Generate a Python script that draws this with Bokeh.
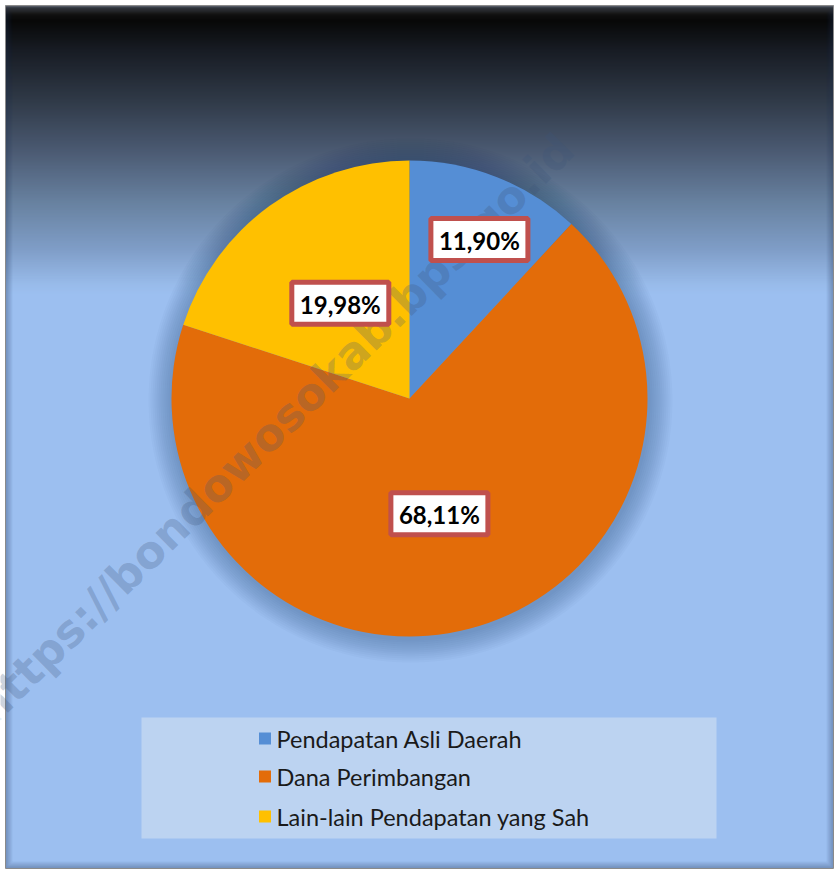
import numpy as np
from bokeh.plotting import figure
from bokeh.models import Range1d
from bokeh.core.properties import value
from bokeh.embed import file_html
from bokeh.resources import INLINE

# ---------------- data ----------------
categories = ["Pendapatan Asli Daerah", "Dana Perimbangan", "Lain-lain Pendapatan yang Sah"]
shares = [11.90, 68.11, 19.98]
share_labels = ["11,90%", "68,11%", "19,98%"]
colors = ["#558ED5", "#E36C09", "#FFC000"]
watermark = "https://bondowosokab.bps.go.id"

# ---------------- layout (reference pixel coordinates, y measured downward) ----------------
W_PX, H_PX = 836, 871
H = float(H_PX)
def Y(v):
    return H - np.asarray(v, dtype=float)

p = figure(width=W_PX, height=H_PX, output_backend="svg", toolbar_location=None,
           x_range=Range1d(0, W_PX), y_range=Range1d(0, H_PX), min_border=0)
p.axis.visible = False
p.grid.visible = False
p.outline_line_color = None
p.background_fill_color = "white"
p.border_fill_color = "white"

# frame
FL, FR, FT, FB = 5.0, 833.0, 5.0, 868.0
p.quad(left=[FL], right=[FR], top=[Y(FT)], bottom=[Y(FB)], fill_color="#9CBFF0", line_color=None)

# gradient at top of the frame
stops = [(5, "#9a9a9a"), (7, "#3a3a3a"), (14, "#111111"), (20, "#080808"), (50, "#181c24"),
         (100, "#303a48"), (150, "#4b5a72"), (200, "#67809e"), (250, "#809ec8"),
         (284, "#98bbea"), (294, "#9CBFF0")]
def hex2rgb(h):
    h = h.lstrip("#")
    return np.array([int(h[i:i + 2], 16) for i in (0, 2, 4)], dtype=float)
sy = np.array([s[0] for s in stops], dtype=float)
sc = np.array([hex2rgb(s[1]) for s in stops])
ys = np.arange(5.0, 294.0, 1.0)
gcols = []
for yy in ys:
    c = [np.interp(yy + 0.5, sy, sc[:, k]) for k in range(3)]
    gcols.append("#%02x%02x%02x" % tuple(int(round(v)) for v in c))
p.quad(left=[FL] * len(ys), right=[FR] * len(ys), top=list(Y(ys)), bottom=list(Y(ys + 1.5)),
       fill_color=gcols, line_color=None)

# frame bevel / inner shadow
for k in range(7):
    a = 0.35 * (1 - k / 7.0)
    p.quad(left=[FL + k + 0.5], right=[FR - k - 0.5], top=[Y(FT + k + 0.5)], bottom=[Y(FB - k - 0.5)],
           fill_color=None, line_color="#1d3250", line_alpha=a, line_width=1)
p.quad(left=[FL], right=[FR], top=[Y(FT)], bottom=[Y(FB)], fill_color=None,
       line_color="#8a8a8a", line_width=1)

# pie
CX, CY, R = 409.0, 398.0, 238.0
for k in range(12, 0, -1):
    p.circle(x=[CX + 1], y=[Y(CY + 2)], radius=R + 2 * k, fill_color="#0f2545",
             fill_alpha=0.022, line_color=None)

frac = np.array(shares) / np.sum(shares)
cum = np.concatenate([[0.0], np.cumsum(frac)])
start = np.pi / 2 - 2 * np.pi * cum[:-1]
end = np.pi / 2 - 2 * np.pi * cum[1:]
p.wedge(x=[CX] * 3, y=[Y(CY)] * 3, radius=R, start_angle=list(start), end_angle=list(end),
        direction="clock", fill_color=colors, line_color=None)

# watermark
p.text(x=[274], y=[Y(428.5)], text=[watermark], angle=np.radians(44.5),
       text_font=value("DejaVu Sans"), text_font_style="bold", text_font_size="45px",
       text_color="#3d5478", text_alpha=0.26, text_align="center", text_baseline="middle")

# data labels
radial = [0.73, 0.50, 0.495]
nudge = np.radians([-2.3, 0.0, 0.0])
mid = (start + end) / 2 + nudge
lx = CX + np.array(radial) * R * np.cos(mid)
ly = Y(CY) + np.array(radial) * R * np.sin(mid)
p.rect(x=list(lx), y=list(ly), width=97, height=42, fill_color="white",
       line_color="#C0504D", line_width=5)
p.text(x=list(lx), y=list(ly - 1), text=share_labels, text_font=value("Lato"),
       text_font_style="bold", text_font_size="24px", text_color="black",
       text_align="center", text_baseline="middle")

# legend
p.quad(left=[141], right=[716], top=[Y(717)], bottom=[Y(838)], fill_color="#BCD3F1", line_color=None)
ly_leg = Y([738, 776, 816])
p.rect(x=[264.5] * 3, y=list(ly_leg), width=12, height=12, fill_color=colors, line_color=None)
p.text(x=[276] * 3, y=list(ly_leg), text=categories, text_font=value("Lato"),
       text_font_size="23.5px", text_color="#1a1a1a", text_align="left", text_baseline="middle")

open("out.html", "w").write(file_html(p, INLINE))
